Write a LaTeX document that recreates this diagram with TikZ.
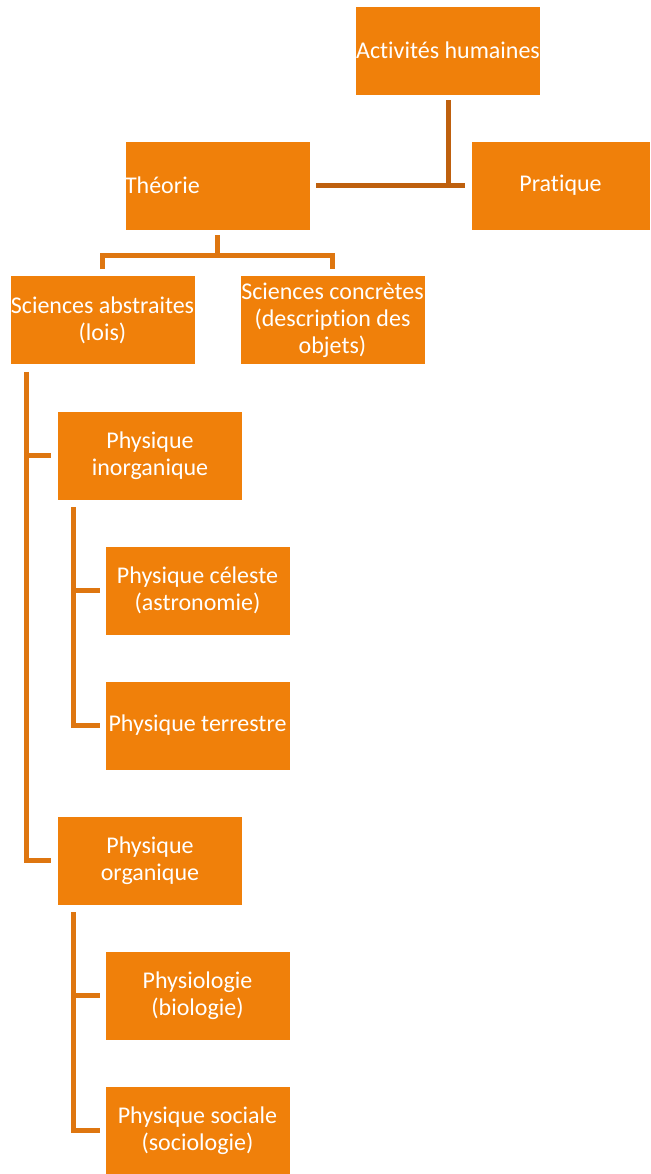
\documentclass[tikz,border=0pt]{standalone}
\usepackage{fontspec}
\setmainfont{Carlito}[RawFeature=-liga]
\usetikzlibrary{positioning,calc}

\definecolor{boxorange}{RGB}{240,128,10}
\definecolor{linkbrown}{RGB}{190,96,14}
\definecolor{linkorange}{RGB}{222,118,16}

\tikzset{
  box/.style={fill=boxorange, draw=white, line width=0.6pt, text=white,
    minimum width=185pt, minimum height=89pt, inner sep=0pt, align=center,
    font=\fontsize{24}{27}\selectfont},
  link/.style={draw=linkorange, line width=5pt},
}

\begin{document}
\begin{tikzpicture}[x=1pt,y=-1pt]
\useasboundingbox (0,0) rectangle (650,1174);

\node[box] (act) at (448,50.5) {Activités humaines};
\node[box, text width=185pt, align=left] (theo) at (217.5,185.5) {Théorie};
\node[box, minimum width=179pt] (prat) at (560.5,185.5) {Pratique};

\node[box] (abs) at (102.5,320) {Sciences abstraites\\(lois)};
\node[box] (conc) at (332.5,320) {Sciences concrètes\\(description des\\objets)};

\node[box] (inorg) at (150,455.5) {Physique\\inorganique};
\node[box] (cel) at (197.5,590.5) {Physique céleste\\(astronomie)};
\node[box] (terr) at (197.5,725.5) {Physique terrestre};

\node[box] (org) at (150,860.5) {Physique\\organique};
\node[box] (physio) at (197.5,995.5) {Physiologie\\(biologie)};
\node[box] (soc) at (197.5,1130.5) {Physique sociale\\(sociologie)};

% top level
\draw[link, draw=linkbrown] ([yshift=-5pt]act.south) -- (act.south |- theo.east);
\draw[link, draw=linkbrown] ([xshift=6pt]theo.east) -- ([xshift=-6pt]prat.west);

% theorie
\coordinate (bus) at ($(theo.south)+(0,25)$);
\draw[link] ([yshift=-5pt]theo.south) -- (bus);
\draw[link] ([yshift=6pt]abs.north) |- (bus) -| ([yshift=6pt]conc.north);

% sciences abstraites
\coordinate (trunk) at ($(abs.south west)+(17,7)$);
\draw[link] (trunk) |- ([xshift=-6pt]org.west);
\draw[link] (trunk |- inorg.west) -- ([xshift=-6pt]inorg.west);

% physique inorganique
\coordinate (subA) at ($(inorg.south west)+(16,7)$);
\draw[link] (subA) |- ([xshift=-5pt]terr.west);
\draw[link] (subA |- cel.west) -- ([xshift=-5pt]cel.west);

% physique organique
\coordinate (subB) at ($(org.south west)+(16,7)$);
\draw[link] (subB) |- ([xshift=-5pt]soc.west);
\draw[link] (subB |- physio.west) -- ([xshift=-5pt]physio.west);

\end{tikzpicture}
\end{document}
